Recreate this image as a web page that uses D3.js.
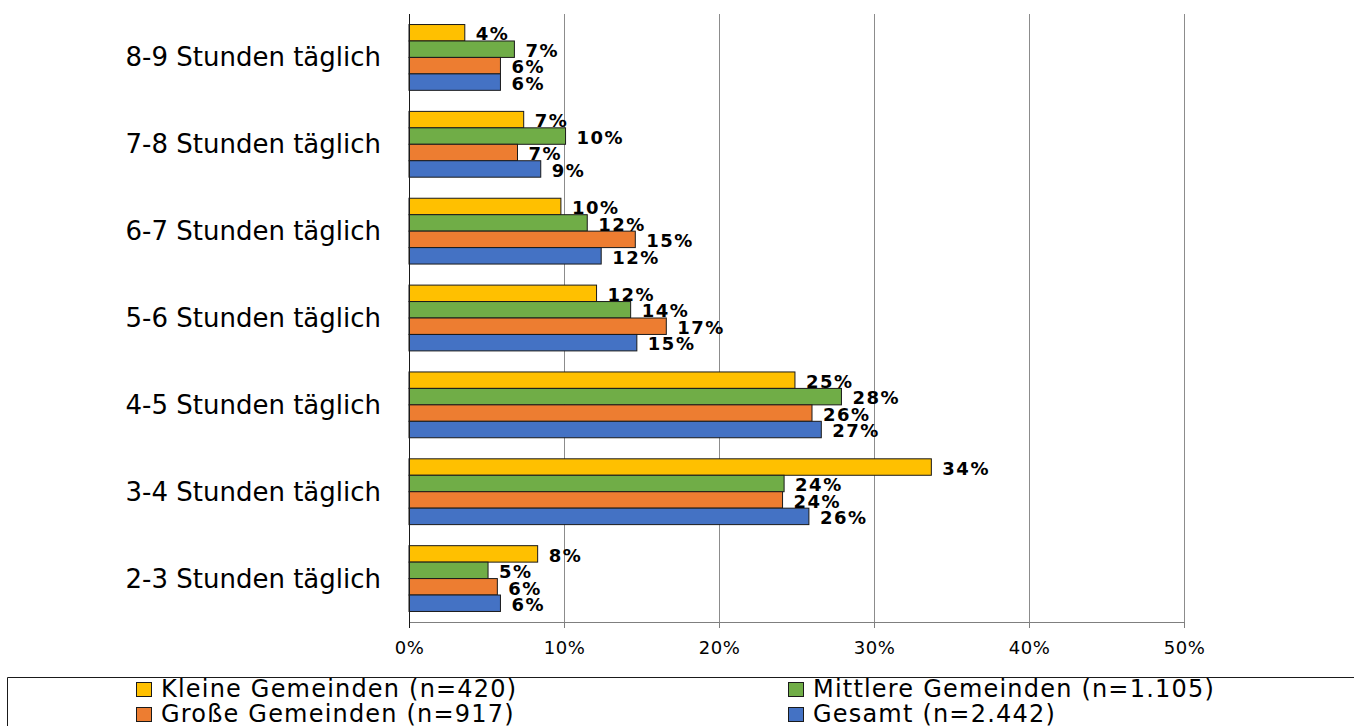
<!DOCTYPE html>
<html>
<head>
<meta charset="utf-8">
<script src="https://cdn.jsdelivr.net/npm/d3@7"></script>
<style>
  html, body { margin: 0; padding: 0; background: #fff; overflow: hidden; }
  svg { display: block; font-family: "DejaVu Sans", Verdana, sans-serif; }
</style>
</head>
<body>
<svg id="chart" width="1354" height="726"></svg>
<script>
// Daily hours categories, top to bottom
const categories = [
  "8-9 Stunden täglich",
  "7-8 Stunden täglich",
  "6-7 Stunden täglich",
  "5-6 Stunden täglich",
  "4-5 Stunden täglich",
  "3-4 Stunden täglich",
  "2-3 Stunden täglich"
];

// Series names (legend order)
const seriesNames = [
  "Kleine Gemeinden (n=420)",
  "Mittlere Gemeinden (n=1.105)",
  "Große Gemeinden (n=917)",
  "Gesamt (n=2.442)"
];

// Shares per category, same order as categories
const kleine   = [0.036, 0.074, 0.098, 0.121, 0.249, 0.337, 0.083];
const mittlere = [0.068, 0.101, 0.115, 0.143, 0.279, 0.242, 0.051];
const grosse   = [0.059, 0.070, 0.146, 0.166, 0.260, 0.241, 0.057];
const gesamt   = [0.059, 0.085, 0.124, 0.147, 0.266, 0.258, 0.059];

const xTicks = [0, 0.1, 0.2, 0.3, 0.4, 0.5];
const colors = ["#FFC000", "#70AD47", "#ED7D31", "#4472C4"];

const seriesValues = [kleine, mittlere, grosse, gesamt];
const pct = d3.format(".0%");

const svg = d3.select("#chart");

const plot = { left: 409, right: 1184, top: 14, bottom: 622 };

const x = d3.scaleLinear().domain([0, 0.5]).range([plot.left, plot.right]);
const y = d3.scaleBand().domain(categories).range([plot.top, plot.bottom]).paddingInner(0).paddingOuter(0);
const inner = d3.scaleBand().domain(d3.range(seriesNames.length))
  .range([0, y.bandwidth()]).paddingInner(0).paddingOuter(0.64);

// Vertical gridlines
svg.append("g")
  .selectAll("line")
  .data(xTicks.slice(1))
  .join("line")
  .attr("x1", d => Math.round(x(d)) + 0.5)
  .attr("x2", d => Math.round(x(d)) + 0.5)
  .attr("y1", plot.top)
  .attr("y2", plot.bottom)
  .attr("stroke", "#8c8c8c")
  .attr("stroke-width", 1);

// Bars and value labels
const groups = svg.append("g")
  .selectAll("g")
  .data(categories)
  .join("g")
  .attr("transform", d => `translate(0,${y(d)})`);

groups.each(function(cat, ci) {
  const g = d3.select(this);
  const rows = seriesValues.map((vals, si) => ({ si, v: vals[ci] }));
  g.selectAll("rect")
    .data(rows)
    .join("rect")
    .attr("x", x(0))
    .attr("y", d => inner(d.si))
    .attr("width", d => x(d.v) - x(0))
    .attr("height", inner.bandwidth())
    .attr("fill", d => colors[d.si])
    .attr("stroke", "#1a1a1a")
    .attr("stroke-width", 1);
  g.selectAll("text")
    .data(rows)
    .join("text")
    .attr("x", d => x(d.v) + 11)
    .attr("y", d => inner(d.si) + inner.bandwidth() - 0.5)
    .attr("font-size", 18)
    .attr("font-weight", "bold")
    .attr("letter-spacing", 1.5)
    .attr("fill", "#000")
    .text(d => pct(d.v));
});

// X axis
const xAxis = d3.axisBottom(x).tickValues(xTicks).tickFormat(pct).tickSize(6).tickSizeOuter(0);
const xg = svg.append("g")
  .attr("transform", `translate(0,${plot.bottom})`)
  .call(xAxis);
xg.select(".domain").attr("stroke", "#7f7f7f");
xg.selectAll(".tick line").attr("stroke", "#7f7f7f");
xg.selectAll(".tick text")
  .attr("font-family", "'DejaVu Sans', Verdana, sans-serif")
  .attr("font-size", 18)
  .attr("letter-spacing", 0.5)
  .attr("fill", "#000")
  .attr("y", 32)
  .attr("dy", 0);

// Y axis line and category labels
svg.append("line")
  .attr("x1", plot.left + 0.5).attr("x2", plot.left + 0.5)
  .attr("y1", plot.top).attr("y2", plot.bottom + 6)
  .attr("stroke", "#1a1a1a");

svg.append("g")
  .selectAll("text")
  .data(categories)
  .join("text")
  .attr("x", 381)
  .attr("y", d => y(d) + y.bandwidth() / 2 + 9)
  .attr("text-anchor", "end")
  .attr("font-size", 26)
  .attr("fill", "#000")
  .text(d => d);

// Legend box
svg.append("path")
  .attr("d", "M1354,677.5 H7.5 V726")
  .attr("fill", "none")
  .attr("stroke", "#1a1a1a");

const legendPos = [
  { x: 136, y: 697 },
  { x: 788, y: 697 },
  { x: 136, y: 722 },
  { x: 788, y: 722 }
];

const legend = svg.append("g")
  .selectAll("g")
  .data(seriesNames)
  .join("g")
  .attr("transform", (d, i) => `translate(${legendPos[i].x},${legendPos[i].y})`);

legend.append("rect")
  .attr("x", 0.5).attr("y", -14.5)
  .attr("width", 15).attr("height", 14)
  .attr("fill", (d, i) => colors[i])
  .attr("stroke", "#1a1a1a");

legend.append("text")
  .attr("x", 25)
  .attr("y", 0)
  .attr("font-size", 24)
  .attr("letter-spacing", 1.2)
  .attr("fill", "#000")
  .text(d => d);
</script>
</body>
</html>
